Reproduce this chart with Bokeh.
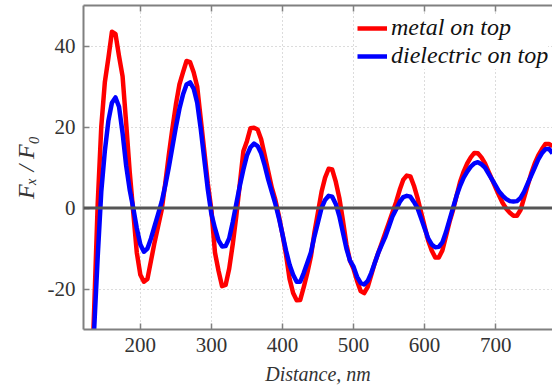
from bokeh.plotting import figure
from bokeh.models import Range1d, LinearAxis, Span, Legend, LegendItem, FixedTicker
from bokeh.embed import file_html
from bokeh.resources import INLINE

# ---- data ----
distance_nm = list(range(130, 785, 5))

metal_on_top = [
    -50, -25, 1, 20, 31, 37, 43.5, 43, 37.5, 32.5,          # 130-175
    21, 9, -1, -11, -16.5, -18.2, -17.5, -13, -8.5, -4.5,   # 180-225
    -0.5, 6, 13, 19.5, 25.5, 30.5, 33.5, 36.3, 36, 33.5,    # 230-275
    30, 22, 14, 6, -0.5, -11, -15.5, -19.3, -19, -15,       # 280-325
    -9, -2, 6, 14, 16.5, 19.7, 19.8, 19.4, 17, 13,          # 330-375
    9, 5, 2, -2, -6.5, -11.5, -17.5, -21, -22.8, -22.7,     # 380-425
    -19.5, -16, -12, -6, -1, 4, 7.5, 9.7, 9.5, 6.5,         # 430-475
    2.5, -3, -9, -13, -15, -18, -20.5, -21, -19.5, -16.5,   # 480-525
    -13.5, -11, -8.5, -6, -3.5, -1, 1.5, 4.5, 7, 8,         # 530-575
    7.8, 5.5, 2.5, -1, -4.5, -8, -10.5, -12.2, -12.2, -10.5,  # 580-625
    -7, -3.5, -0.5, 3, 6.5, 9, 11, 12.5, 13.6, 13.5,        # 630-675
    12.5, 11, 9, 7, 5, 3, 1.2, -0.2, -1.2, -1.9,            # 680-725
    -1.9, -0.5, 2.5, 5.5, 8.5, 11, 13, 14.5, 15.8, 15.8,    # 730-775
    15.3,                                                   # 780
]

dielectric_on_top = [
    -48, -30, -12, 4, 14, 21.5, 26, 27.3, 25, 18.5,         # 130-175
    10.5, 4.5, 0, -5, -9, -10.8, -10, -7.5, -4.5, -1.5,     # 180-225
    1.5, 5.5, 10, 15, 20, 24.5, 28, 30.5, 31, 29.5,         # 230-275
    26, 19.5, 12, 4.5, -1.5, -5, -8, -9.5, -9.4, -7.5,      # 280-325
    -3.5, 1, 5.5, 9.5, 13, 15, 15.9, 15.3, 13.5, 10.5,      # 330-375
    7, 4, 1, -2.5, -6.5, -10.5, -14, -16.5, -18.2, -18.2,   # 380-425
    -16, -13.5, -11, -7, -3.5, 0, 2, 3, 2.8, 1,             # 430-475
    -2, -6, -10, -13, -14.5, -17, -18.5, -18.9, -18, -16,   # 480-525
    -13.5, -11, -9, -7, -4.5, -2, -0.3, 1.5, 2.7, 3,        # 530-575
    2.8, 1.5, 0, -2.5, -5, -7.5, -9, -9.7, -9.6, -8.5,      # 580-625
    -6, -3, 0, 3, 5.5, 7.5, 9, 10.2, 11, 11.3,              # 630-675
    10.8, 10, 8.5, 7, 5.5, 4, 3, 2.2, 1.7, 1.6,             # 680-725
    1.7, 2.5, 4, 6, 8, 10, 12, 13.5, 14.5, 14.6,            # 730-775
    13.5,                                                   # 780
]

x_ticks = [200, 300, 400, 500, 600, 700]
y_ticks = [-20, 0, 20, 40]
y_tick_labels = ["-20", "0", "20", "40"]
series_labels = ["metal on top", "dielectric on top"]
x_title = "Distance, nm"
y_title = "F\u2093 / F\u2080"

SERIF = "Liberation Serif"
TEXT_COLOR = "#333333"
AXIS_COLOR = "#808080"

p = figure(width=552, height=387, output_backend="svg", toolbar_location=None,
           x_range=Range1d(120, 780), y_range=Range1d(-30, 50),
           min_border_left=83, min_border_right=0, min_border_top=5,
           min_border_bottom=58, background_fill_color="white",
           border_fill_color="white", outline_line_color=None)

# grid
for g in (p.xgrid, p.ygrid):
    g.grid_line_color = "#b8b8b8"
    g.grid_line_dash = "1 3"
    g.grid_line_width = 1
p.xgrid.ticker = FixedTicker(ticks=x_ticks)
p.ygrid.ticker = FixedTicker(ticks=y_ticks)

# axes
for ax in (p.xaxis[0], p.yaxis[0]):
    ax.axis_line_color = AXIS_COLOR
    ax.axis_line_width = 2
    ax.major_tick_line_color = AXIS_COLOR
    ax.major_tick_line_width = 1.5
    ax.major_tick_in = 6
    ax.major_tick_out = 0
    ax.minor_tick_line_color = None
    ax.major_label_text_font = SERIF
    ax.major_label_text_font_size = "21px"
    ax.major_label_text_color = TEXT_COLOR
    ax.axis_label_text_font = SERIF
    ax.axis_label_text_font_style = "italic"
    ax.axis_label_text_font_size = "20px"
    ax.axis_label_text_color = TEXT_COLOR

p.xaxis[0].ticker = FixedTicker(ticks=x_ticks)
p.yaxis[0].ticker = FixedTicker(ticks=y_ticks)
p.yaxis[0].major_label_overrides = dict(zip(y_ticks, y_tick_labels))
p.xaxis[0].major_label_standoff = 8
p.xaxis[0].axis_label = x_title
p.xaxis[0].axis_label_standoff = 8
p.yaxis[0].major_label_standoff = 8
p.yaxis[0].axis_label = y_title
p.yaxis[0].axis_label_standoff = 6
p.yaxis[0].axis_label_text_font_size = "24px"

# top box edge with inward ticks (no labels)
top = LinearAxis(ticker=FixedTicker(ticks=x_ticks), axis_line_color=AXIS_COLOR,
                 axis_line_width=2, major_tick_line_color=AXIS_COLOR,
                 major_tick_line_width=1.5, major_tick_in=6, major_tick_out=0,
                 minor_tick_line_color=None, major_label_standoff=0,
                 major_label_overrides={t: "" for t in x_ticks})
p.add_layout(top, "above")

# curves
r_metal = p.line(distance_nm, metal_on_top, line_color="#ff0000", line_width=4.5,
                 line_join="round")
r_diel = p.line(distance_nm, dielectric_on_top, line_color="#0000ff", line_width=4.5,
                line_join="round")

# zero line
p.add_layout(Span(location=0, dimension="width", line_color="#555555", line_width=3))

legend = Legend(items=[LegendItem(label=series_labels[0], renderers=[r_metal]),
                       LegendItem(label=series_labels[1], renderers=[r_diel])],
                location=(274, 260), margin=0, padding=6, spacing=1,
                glyph_width=30, glyph_height=20, label_height=20,
                label_standoff=4, border_line_color=None,
                background_fill_color="white", background_fill_alpha=1,
                label_text_font=SERIF, label_text_font_style="italic",
                label_text_font_size="24px", label_text_color="#111111")
p.add_layout(legend, "center")

open("out.html", "w").write(file_html(p, INLINE))
